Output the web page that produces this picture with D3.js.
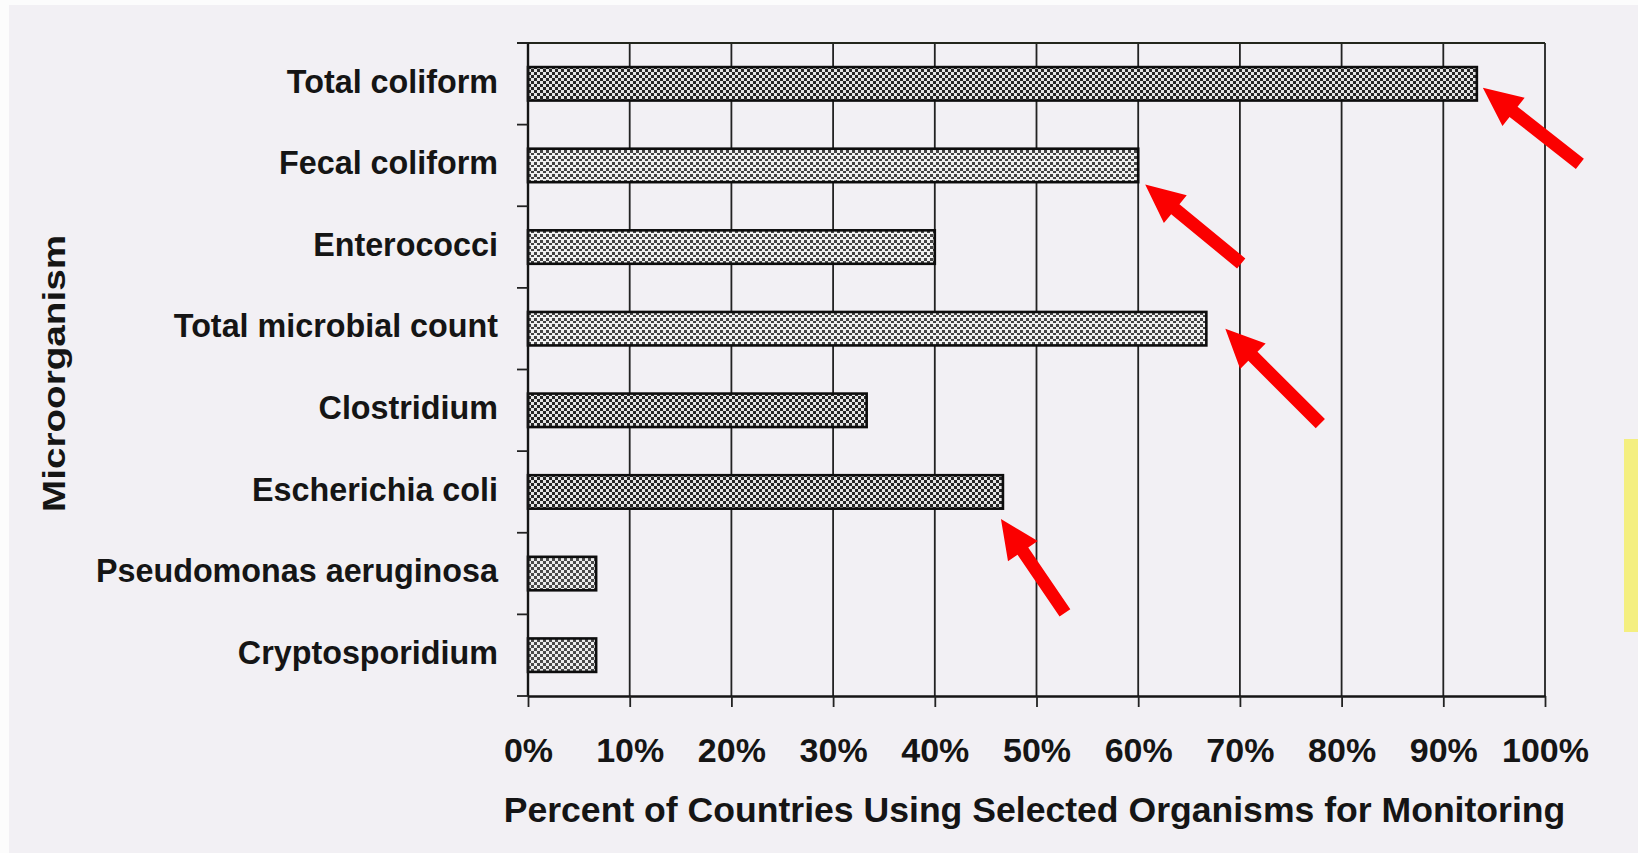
<!DOCTYPE html>
<html>
<head>
<meta charset="utf-8">
<script src="https://cdn.jsdelivr.net/npm/d3@7"></script>
<style>
  html, body { margin: 0; padding: 0; background: #fcfcfc; }
  svg { display: block; }
  text { font-family: "Liberation Sans", Arial, Helvetica, sans-serif; font-weight: bold; fill: #151515; }
</style>
</head>
<body>
<svg id="chart" width="1638" height="853"></svg>
<script>
// ---- data ----
const organisms = [
  "Total coliform",
  "Fecal coliform",
  "Enterococci",
  "Total microbial count",
  "Clostridium",
  "Escherichia coli",
  "Pseudomonas aeruginosa",
  "Cryptosporidium"
];
const percentUsing = [93.3, 60, 40, 66.7, 33.3, 46.7, 6.7, 6.7];
const percentTicks = [0, 10, 20, 30, 40, 50, 60, 70, 80, 90, 100];
const xTitle = "Percent of Countries Using Selected Organisms for Monitoring";
const yTitle = "Microorganism";
// organisms singled out with a red arrow
const highlighted = ["Total coliform", "Fecal coliform", "Total microbial count", "Escherichia coli"];

// ---- styling ----
const barPattern = ["dense", "open", "open", "open", "dense", "dense", "medium", "medium"];
// arrow tip offset from the bar end (px) and vector from tip to tail (px)
const arrowGeom = {
  "Total coliform":        { tip: [6, 4],   tail: [97, 76] },
  "Fecal coliform":        { tip: [7, 19],  tail: [96, 79] },
  "Total microbial count": { tip: [19, 0],  tail: [95, 95] },
  "Escherichia coli":      { tip: [-2, 27], tail: [64, 94] }
};

const W = 1638, H = 853;
const plot = { left: 528, right: 1545, top: 43, bottom: 696 };

const svg = d3.select("#chart");

// scanned page background
svg.append("rect").attr("x", 0).attr("y", 0).attr("width", W).attr("height", H).attr("fill", "#fcfcfc");
svg.append("rect").attr("x", 9).attr("y", 5).attr("width", W - 9).attr("height", H - 5).attr("fill", "#f2f0f4");
// highlighter streak at the right edge of the page
svg.append("rect").attr("x", 1624).attr("y", 439).attr("width", 14).attr("height", 193).attr("fill", "#f4ef80");

// ---- fill patterns ----
const defs = svg.append("defs");
function checker(id, bg, fg, cell) {
  const p = defs.append("pattern").attr("id", id).attr("patternUnits", "userSpaceOnUse")
    .attr("width", cell * 2).attr("height", cell * 2);
  p.append("rect").attr("width", cell * 2).attr("height", cell * 2).attr("fill", bg);
  p.append("rect").attr("x", 0).attr("y", 0).attr("width", cell).attr("height", cell).attr("fill", fg);
  p.append("rect").attr("x", cell).attr("y", cell).attr("width", cell).attr("height", cell).attr("fill", fg);
}
checker("dense", "#e4e4e4", "#262626", 3);
checker("medium", "#ececec", "#4a4a4a", 3);
(function () {
  const p = defs.append("pattern").attr("id", "open").attr("patternUnits", "userSpaceOnUse")
    .attr("width", 6).attr("height", 6);
  p.append("rect").attr("width", 6).attr("height", 6).attr("fill", "#f0f0f0");
  p.append("rect").attr("x", 0).attr("y", 0).attr("width", 3).attr("height", 3).attr("fill", "#444");
  p.append("rect").attr("x", 3).attr("y", 3).attr("width", 3).attr("height", 2).attr("fill", "#444");
})();

// ---- scales ----
const x = d3.scaleLinear().domain([0, 100]).range([plot.left, plot.right]);
const y = d3.scaleBand().domain(organisms).range([plot.top, plot.bottom])
  .paddingInner(0.59).paddingOuter(0.295);

// ---- grid (vertical lines at each tick) ----
svg.append("g").selectAll("line").data(percentTicks.filter(d => d > 0)).join("line")
  .attr("x1", d => x(d)).attr("x2", d => x(d))
  .attr("y1", plot.top).attr("y2", plot.bottom)
  .attr("stroke", "#222").attr("stroke-width", 1.8);

// top frame line
svg.append("line").attr("x1", plot.left - 11).attr("x2", plot.right)
  .attr("y1", plot.top).attr("y2", plot.top)
  .attr("stroke", "#23261c").attr("stroke-width", 2.2);

// ---- bars ----
svg.append("g").selectAll("rect").data(organisms).join("rect")
  .attr("x", x(0))
  .attr("y", d => y(d))
  .attr("width", (d, i) => x(percentUsing[i]) - x(0))
  .attr("height", y.bandwidth())
  .attr("fill", (d, i) => `url(#${barPattern[i]})`)
  .attr("stroke", "#0d0d0d")
  .attr("stroke-width", 2.6);

// ---- x axis ----
const xAxis = d3.axisBottom(x).tickValues(percentTicks).tickFormat(d => d + "%")
  .tickSize(11).tickPadding(31).tickSizeOuter(0);
const gx = svg.append("g").attr("transform", `translate(0,${plot.bottom})`).call(xAxis);
gx.select(".domain").attr("stroke", "#151515").attr("stroke-width", 2.4);
gx.selectAll(".tick line").attr("stroke", "#222").attr("stroke-width", 1.8);
gx.selectAll(".tick text").attr("font-size", 34).attr("fill", "#151515")
  .attr("font-family", "'Liberation Sans', Arial, sans-serif").attr("font-weight", "bold");

// ---- y axis: category boundaries as ticks ----
const step = y.step();
const bounds = d3.range(organisms.length + 1).map(i => plot.top + i * step);
svg.append("line").attr("x1", plot.left).attr("x2", plot.left)
  .attr("y1", plot.top).attr("y2", plot.bottom)
  .attr("stroke", "#151515").attr("stroke-width", 2.4);
svg.append("g").selectAll("line").data(bounds).join("line")
  .attr("x1", plot.left - 11).attr("x2", plot.left)
  .attr("y1", d => d).attr("y2", d => d)
  .attr("stroke", "#222").attr("stroke-width", 1.8);

svg.append("g").selectAll("text").data(organisms).join("text")
  .attr("x", 498)
  .attr("y", d => y(d) + y.bandwidth() / 2)
  .attr("dy", "0.27em")
  .attr("text-anchor", "end")
  .attr("font-size", 32.3)
  .text(d => d);

// ---- titles ----
svg.append("text")
  .attr("x", (plot.left + plot.right) / 2 - 2)
  .attr("y", 822)
  .attr("text-anchor", "middle")
  .attr("font-size", 35.6)
  .text(xTitle);

svg.append("text")
  .attr("transform", `translate(65,${(plot.top + plot.bottom) / 2 + 4}) rotate(-90)`)
  .attr("text-anchor", "middle")
  .attr("font-size", 31)
  .attr("textLength", 277)
  .attr("lengthAdjust", "spacingAndGlyphs")
  .text(yTitle);

// ---- red arrow callouts ----
function arrowPath(len) {
  const hl = 39, hw = 18, sw = 6.5;
  return `M0,0 L${hl},${-hw} L${hl},${-sw} L${len},${-sw} L${len},${sw} L${hl},${sw} L${hl},${hw} Z`;
}
svg.append("g").selectAll("path").data(highlighted).join("path")
  .attr("d", d => {
    const g = arrowGeom[d];
    return arrowPath(Math.hypot(g.tail[0], g.tail[1]));
  })
  .attr("transform", d => {
    const i = organisms.indexOf(d);
    const g = arrowGeom[d];
    const tx = x(percentUsing[i]) + g.tip[0];
    const ty = y(d) + y.bandwidth() / 2 + g.tip[1];
    const ang = Math.atan2(g.tail[1], g.tail[0]) * 180 / Math.PI;
    return `translate(${tx},${ty}) rotate(${ang})`;
  })
  .attr("fill", "#fb0000");
</script>
</body>
</html>
